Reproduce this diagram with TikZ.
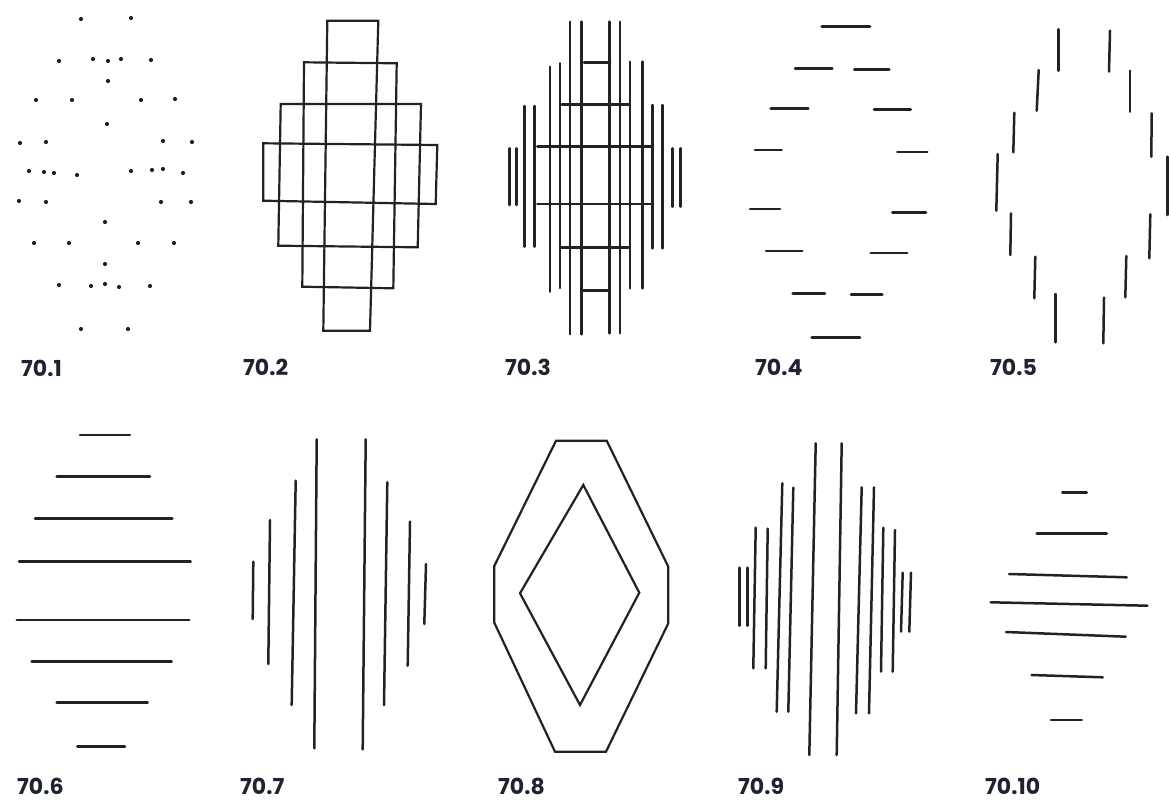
\documentclass[tikz,border=0pt]{standalone}
\usepackage{fontspec}
\newfontfamily\labfont{Poppins}
\definecolor{ink}{HTML}{222222}
\definecolor{labink}{HTML}{1E2330}
\begin{document}
\begin{tikzpicture}[x=1pt,y=-1pt,
  ln/.style={draw=ink, line width=2.5pt, line cap=round},
  thin/.style={draw=ink, line width=2.2pt, line join=miter},
  dot/.style={fill=ink},
  lab/.style={anchor=base west, inner sep=0pt, font=\labfont\bfseries\fontsize{22}{24}\selectfont, text=labink}]
\useasboundingbox (0,0) rectangle (1169,800);
\fill[white] (0,0) rectangle (1169,800);

% ---------- 70.1 dots
\foreach \p in {(81,19),(131,18),
  (59,61),(93,59),(108,61),(121,59),(151,60),(108,81),
  (36,100),(72,100),(141,100),(175,99),(107,124),
  (20,143),(46,142),(163,141),(192,142),
  (29,171),(44,172),(54,173),(77,175),(131,171),(152,170),(163,169),(183,173),
  (19,201),(46,202),(161,202),(191,202),(105,222),
  (34,243),(69,243),(138,243),(174,243),(105,264),
  (59,285),(91,286),(105,284),(119,287),(150,286),
  (81,329),(128,329)}
  \fill[dot] \p circle (2.1);

% ---------- 70.2 nested rectangles
\draw[thin] (327.3,20.7) -- (378.3,20.7) -- (370,330.7) -- (323.3,330.7) -- cycle;
\draw[thin] (304,62.3) -- (396.7,63.3) -- (393.3,288.3) -- (302.3,286.7) -- cycle;
\draw[thin] (280.7,104) -- (421,104) -- (417.7,247.3) -- (278.3,245.7) -- cycle;
\draw[thin] (263.3,143.3) -- (437.3,145) -- (435.7,204) -- (263.3,200.7) -- cycle;

% ---------- 70.3 vertical lines with rungs
\foreach \x/\a/\b in {509.3/148.3/205, 516.7/148.3/205, 672.3/148.3/206.7, 680.3/148.3/206.7,
  524.3/106/246.7, 534.3/106/246.7, 652.3/105/248.3, 662.3/105/248.3,
  550/66.7/291.7, 560/63.3/288, 630/61.7/288.3, 642.3/61.7/288.3,
  570/21.7/334.3, 581.7/21.7/334.3, 609.3/21.7/333.3, 620/21.7/333.3}
  \draw[ln] (\x,\a) -- (\x,\b);
\foreach \y/\a/\b in {62.3/584/610, 104.3/561.7/629, 146.7/537.3/651.7,
  204/537.3/651.7, 247.3/560/628.3, 290.7/581.7/608.3}
  \draw[ln] (\a,\y) -- (\b,\y);

% ---------- 70.4 horizontal dashes
\foreach \a/\b/\y in {821.7/870/26.7,
  795/832.3/68.3, 854.3/889.3/69.3,
  770.7/808.3/108.3, 874/910.7/109.7,
  755/781.7/150, 897.3/927.3/152,
  750/780/209, 892.3/926/212.3,
  766/802.3/251, 870.7/907.3/253,
  792.7/825/293.3, 851/882.3/294.7,
  811.7/860/337.7}
  \draw[ln] (\a,\y) -- (\b,\y);

% ---------- 70.5 vertical dashes
\foreach \x/\xb/\a/\b in {1058.3/1058.3/29.3/70.7, 1110/1109/30.7/71.7,
  1038.7/1036.7/70/110.7, 1130/1130/70.7/111.7,
  1014.3/1013.3/112.7/152.3, 1151.7/1151.3/113.3/156.7,
  997.7/996.3/154/210.7, 1167.3/1167.3/156.7/215,
  1011/1010.3/213.3/255, 1150.3/1149.3/214.3/258.3,
  1035.3/1034.3/256.7/298.3, 1126.3/1125.3/256/297.3,
  1055.7/1055.7/294/342.3, 1104/1103.3/297.7/343.3}
  \draw[ln] (\x,\a) -- (\xb,\b);

% ---------- 70.6 horizontal lines
\foreach \a/\b/\y in {80/130/435, 56.7/150/476.7, 35/172.3/518.3, 19/190.7/561.3,
  16.7/189.3/620, 31.7/171.7/661.7, 56.7/147.7/702.7, 77.3/125/746.7}
  \draw[ln] (\a,\y) -- (\b,\y);

% ---------- 70.7 vertical lines
\foreach \x/\xb/\a/\b in {253.3/252.7/561.7/619, 270/268.3/520/664, 295.7/291.7/480.7/705,
  316.7/314.3/439.3/748.3, 365.7/362.7/439.3/749.3, 387.3/384/482.3/705,
  410/407.7/521.7/665.7, 426/424.3/564/624}
  \draw[ln] (\x,\a) -- (\xb,\b);

% ---------- 70.8 octagon and diamond
\draw[thin] (556,440.7) -- (606.7,440.7) -- (668.3,566.7) -- (668.3,623.3) -- (606,751.7)
  -- (555,751.7) -- (494.3,622.7) -- (494.3,566) -- cycle;
\draw[thin] (583.3,485) -- (639.3,592.7) -- (580,705) -- (520,593.3) -- cycle;

% ---------- 70.9 vertical lines
\foreach \x/\xb/\a/\b in {739.3/739.3/567.7/625.7, 747.3/747.3/567.7/625.7,
  755.7/753.3/527.7/668.3, 767.7/765.7/528.7/668.3,
  782.3/776.7/483.3/711.7, 793.3/788.3/487.7/711.7,
  815.7/809.3/443.3/755, 841.7/836.7/443.3/755,
  861.7/856/487.3/713.3, 874/869/487.3/713.3,
  883.3/881/527.7/671.7, 895/892.7/530/671.7,
  902.7/901/572.7/631.7, 911/909.3/572.7/631.7}
  \draw[ln] (\x,\a) -- (\xb,\b);

% ---------- 70.10 horizontal lines
\foreach \a/\b/\y/\yb in {1062.3/1086.7/492.7/492.7, 1036.7/1106.7/533.3/533.3,
  1009/1126.7/574/577.3, 990.7/1147.3/602.3/605.7, 1006/1125.7/632/636.7,
  1031.7/1102.7/675/677.3, 1051/1081.7/720/720}
  \draw[ln] (\a,\y) -- (\b,\yb);

% ---------- labels
\node[lab] (l1) at (21,376) {70.1};
\node[lab] (l2) at (243,375) {70.2};
\node[lab] (l3) at (505,375) {70.3};
\node[lab] (l4) at (755,375) {70.4};
\node[lab] (l5) at (990,375) {70.5};
\node[lab] (l6) at (17,794) {70.6};
\node[lab] (l7) at (240,794) {70.7};
\node[lab] (l8) at (498,794) {70.8};
\node[lab] (l9) at (738,794) {70.9};
\node[lab] (l10) at (985,794) {70.10};
\end{tikzpicture}
\end{document}
